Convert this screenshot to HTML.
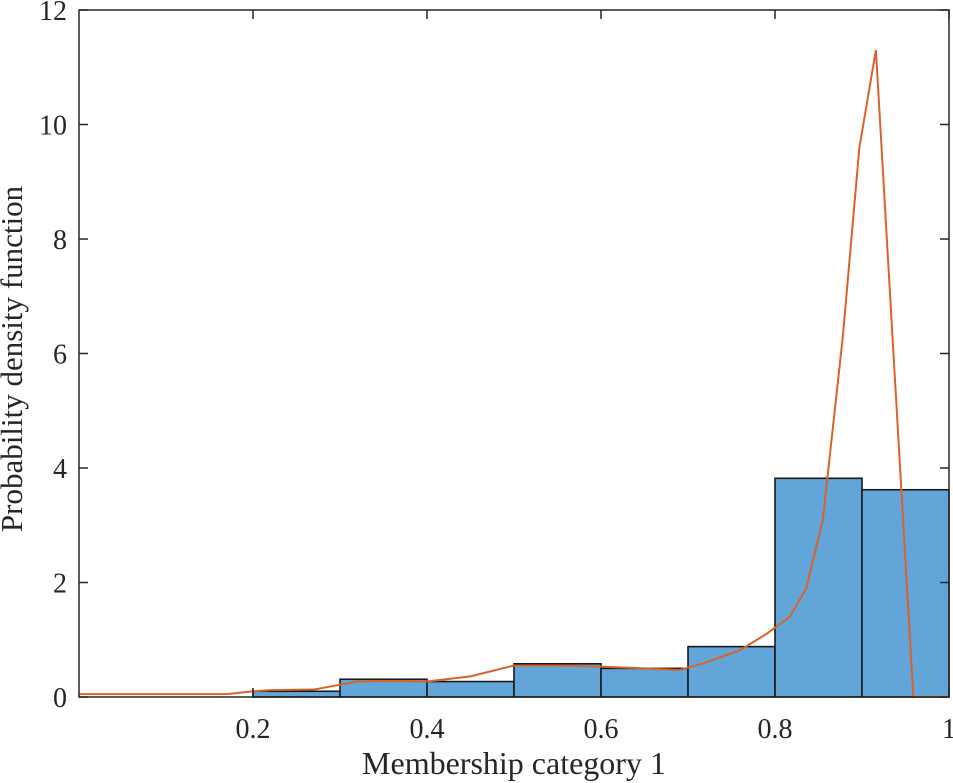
<!DOCTYPE html>
<html><head><meta charset="utf-8"><style>
body{margin:0;background:#fff}
svg{display:block}
text{font-family:"Liberation Serif",serif;fill:#262626}
</style></head><body>
<svg id="chart" width="953" height="783" viewBox="0 0 953 783" xmlns="http://www.w3.org/2000/svg">
<g id="bars"></g>
<g id="curve"></g>
<g id="axes"></g>
<text x="514" y="774" font-size="32" text-anchor="middle">Membership category 1</text>
<text transform="translate(22,359) rotate(-90)" font-size="31" text-anchor="middle">Probability density function</text>
</svg>
<script>
const binEdges=[0.2,0.3,0.4,0.5,0.6,0.7,0.8,0.9,1.0];
const binHeights=[0.1,0.31,0.27,0.58,0.5,0.88,3.82,3.62];
const curveX=[0,0.17,0.2,0.22,0.27,0.32,0.36,0.4,0.45,0.5,0.55,0.6,0.65,0.69,0.72,0.76,0.79,0.817,0.836,0.855,0.878,0.897,0.916,0.959,1.0];
const curveY=[0.05,0.05,0.1,0.12,0.13,0.27,0.28,0.27,0.36,0.55,0.55,0.53,0.5,0.47,0.6,0.82,1.1,1.4,1.9,3.1,6.3,9.6,11.3,0,0];
const xTicks=[0.2,0.4,0.6,0.8,1];
const xTickLabels=["0.2","0.4","0.6","0.8","1"];
const yTicks=[0,2,4,6,8,10,12];
const yTickLabels=["0","2","4","6","8","10","12"];
const L=79,R=949,T=10,B=697;
const sx=v=>L+v*(R-L);
const sy=v=>B-v/12*(B-T);
const NS="http://www.w3.org/2000/svg";
function mk(t,a,p){const e=document.createElementNS(NS,t);for(const k in a)e.setAttribute(k,a[k]);p.appendChild(e);return e;}
const bars=document.getElementById('bars');
binHeights.forEach((h,i)=>{
 const x0=sx(binEdges[i]),x1=sx(binEdges[i+1]);
 const r=mk('rect',{x:x0,y:sy(h),width:x1-x0,height:B-sy(h),fill:'#62a6d9',stroke:'#1a1a1a','stroke-width':1.6},bars);
 
 
});
const cg=document.getElementById('curve');
const pl=mk('polyline',{points:curveX.map((x,i)=>sx(x)+','+sy(curveY[i])).join(' '),fill:'none',stroke:'#d9622b','stroke-width':2},cg);


const ax=document.getElementById('axes');
const fr=mk('rect',{x:L,y:T,width:R-L,height:B-T,fill:'none',stroke:'#262626','stroke-width':1.5},ax);


xTicks.forEach((v,i)=>{
 const x=sx(v);
 mk('line',{x1:x,y1:B,x2:x,y2:B-9,stroke:'#262626','stroke-width':1.5},ax);
 mk('line',{x1:x,y1:T,x2:x,y2:T+9,stroke:'#262626','stroke-width':1.5},ax);
 const t=mk('text',{x:x,y:B+41,'font-size':28,'text-anchor':'middle'},ax);
 t.textContent=xTickLabels[i];
 
 
});
yTicks.forEach((v,i)=>{
 const y=sy(v);
 mk('line',{x1:L,y1:y,x2:L+9,y2:y,stroke:'#262626','stroke-width':1.5},ax);
 mk('line',{x1:R,y1:y,x2:R-9,y2:y,stroke:'#262626','stroke-width':1.5},ax);
 const t=mk('text',{x:L-12,y:y+10,'font-size':28,'text-anchor':'end'},ax);
 t.textContent=yTickLabels[i];
 
 
});
</script>
</body></html>
